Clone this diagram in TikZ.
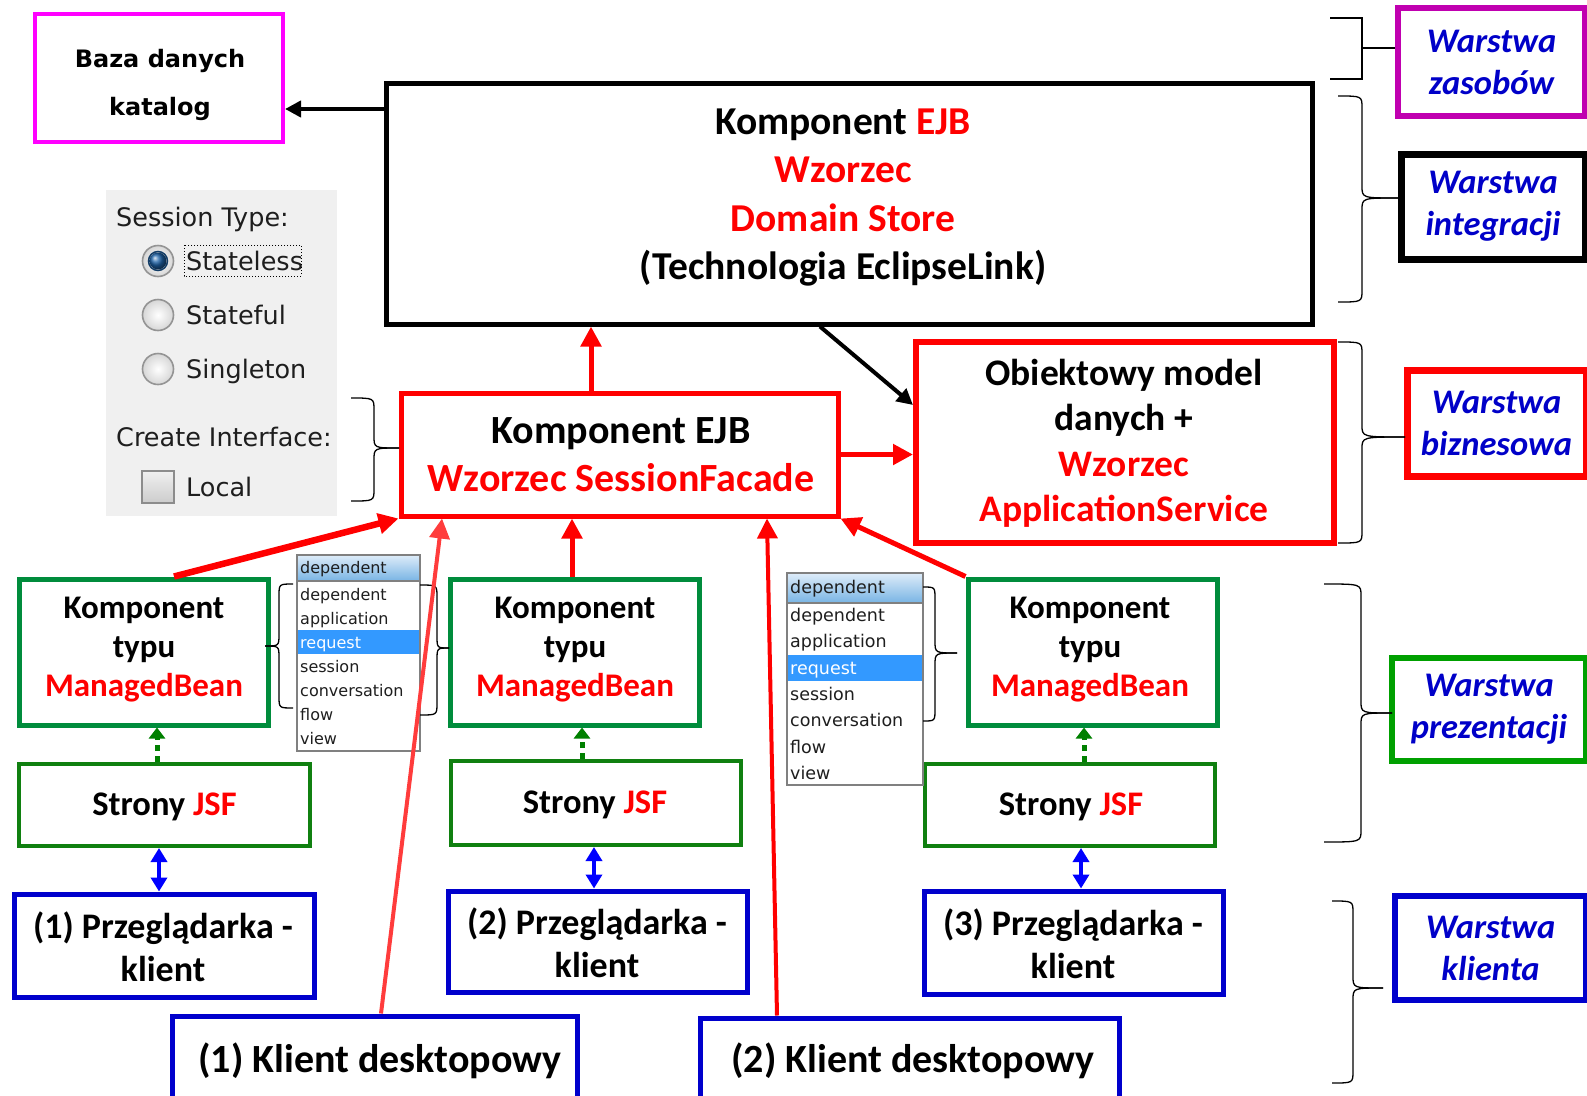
\documentclass[tikz,border=0pt]{standalone}
\usepackage{fontspec}
\setmainfont{Carlito}
\newfontfamily\dvs{DejaVu Sans}
\usetikzlibrary{arrows.meta,calc}

\definecolor{mbgreen}{RGB}{0,140,60}
\definecolor{jsfgreen}{RGB}{16,128,16}
\definecolor{dotgreen}{RGB}{0,128,0}
\definecolor{lgreen}{RGB}{0,160,0}
\definecolor{cblue}{RGB}{0,0,204}
\definecolor{lblue}{RGB}{0,0,200}
\definecolor{purp}{RGB}{192,0,176}
\definecolor{bazapink}{RGB}{255,0,255}
\definecolor{panelgray}{RGB}{240,240,240}
\definecolor{hl}{RGB}{51,153,255}
\definecolor{ddtop}{RGB}{222,236,249}
\definecolor{ddbot}{RGB}{120,180,228}
\definecolor{palered}{RGB}{255,60,60}
\definecolor{radio}{RGB}{30,100,170}
\definecolor{uitext}{RGB}{30,30,30}

\tikzset{
  box/.style={draw, rectangle, inner sep=0pt},
  txt/.style={align=center, inner sep=0pt, font=\bfseries},
  lbox/.style={draw, rectangle, inner sep=0pt, align=center, text=lblue,
    font=\fontsize{34.5}{42}\selectfont\bfseries\itshape},
  brc/.style={draw=black, line width=1.3pt},
  uitxt/.style={anchor=base west, inner sep=0pt, text=uitext, font=\dvs\fontsize{25.5}{28}\selectfont},
  dd1txt/.style={anchor=base west, inner sep=0pt, text=uitext, font=\dvs\fontsize{16}{19}\selectfont},
  dd2txt/.style={anchor=base west, inner sep=0pt, text=uitext, font=\dvs\fontsize{17.5}{21}\selectfont},
  ddframe/.style={draw=black!50, line width=1.2pt},
  redarr/.style={draw=red, line width=5pt, -{Triangle[length=20pt,width=20pt]}},
  blackarr/.style={draw=black, line width=4pt, -{Triangle[length=16pt,width=16pt]}},
  jsfarr/.style={draw=dotgreen, line width=5pt, dash pattern=on 6pt off 5pt,
    -{Triangle[length=11pt,width=16pt]}},
  webarr/.style={draw=blue, line width=4pt,
    {Triangle[length=14pt,width=16pt]}-{Triangle[length=14pt,width=16pt]}}
}

% curly brace: end x, spine x, tip x, top y, bottom y, tip y
\newcommand{\layerbrace}[6]{%
  \draw[brc] (#1,#4) .. controls (#2,#4) .. (#2,{#4+12}) -- (#2,{#6-12}) .. controls (#2,#6) .. (#3,#6);
  \draw[brc] (#1,#5) .. controls (#2,#5) .. (#2,{#5-12}) -- (#2,{#6+12}) .. controls (#2,#6) .. (#3,#6);}

\begin{document}
\begin{tikzpicture}[x=1pt,y=-1pt]
\useasboundingbox (0,0) rectangle (1587,1095);
\clip (0,0) rectangle (1587,1095);

% ---------- session settings panel ----------
\fill[panelgray] (106,190) rectangle (337,516);
\node[uitxt] (sesstype) at (116,226) {Session Type:};
\foreach \yy in {261,315,369}{
  \shade[inner color=white, outer color=black!16] (158,\yy) circle[radius=15.5pt];
  \draw[black!42, line width=1.6pt] (158,\yy) circle[radius=15.5pt];
}
\draw[radio!60!black, line width=1.5pt] (158,261) circle[radius=9.5pt];
\shade[ball color=radio] (158,261) circle[radius=8.5pt];
\node[uitxt] (stateless) at (186,270) {Stateless};
\draw[black, dotted, line width=1pt] (184,245) rectangle (301,276);
\node[uitxt] (stateful) at (186,324) {Stateful};
\node[uitxt] (singleton) at (186,378) {Singleton};
\node[uitxt] (createif) at (116,446) {Create Interface:};
\shade[top color=black!6, bottom color=black!20] (142,471) rectangle (174,503);
\draw[black!45, line width=1.5pt] (142,471) rectangle (174,503);
\node[uitxt] (local) at (186,496) {Local};

% ---------- main boxes ----------
\node[box, draw=bazapink, line width=4pt, minimum width=248pt, minimum height=128pt] (baza) at (159,78) {};
\node[txt, font=\dvs\fontsize{24}{48}\selectfont\bfseries] (bazat) at (160,85) {Baza danych\\katalog};

\node[box, draw=black, line width=5pt, minimum width=926pt, minimum height=241pt] (ejb) at (849,203.5) {};
\node[txt, font=\fontsize{39.5}{48.3}\selectfont\bfseries] (ejbt) at (843,197.5)
  {Komponent \textcolor{red}{EJB}\\\textcolor{red}{Wzorzec}\\\textcolor{red}{Domain Store}\\(Technologia EclipseLink)};

\node[box, draw=red, line width=5pt, minimum width=437pt, minimum height=123pt] (fac) at (619.5,454.5) {};
\node[txt, font=\fontsize{40}{48}\selectfont\bfseries] (fact) at (621,455)
  {Komponent EJB\\\textcolor{red}{Wzorzec SessionFacade}};

\node[box, draw=red, line width=6pt, minimum width=418pt, minimum height=201pt] (obj) at (1125,442.5) {};
\node[txt, font=\fontsize{37.5}{45.5}\selectfont\bfseries] (objt) at (1124,443.5)
  {Obiektowy model\\danych +\\\textcolor{red}{Wzorzec}\\\textcolor{red}{ApplicationService}};

% managed beans
\foreach \cx/\tx/\nm in {143.5/144/mb1, 574.5/575/mb2, 1092.5/1090/mb3}{
  \node[box, draw=mbgreen, line width=5pt, minimum width=249pt, minimum height=146pt] (\nm) at (\cx,652) {};
  \node[txt, font=\fontsize{33}{39}\selectfont\bfseries] (\nm t) at (\tx,650)
    {Komponent\\typu\\\textcolor{red}{ManagedBean}};
}

% JSF pages
\node[box, draw=jsfgreen, line width=4pt, minimum width=291pt, minimum height=82pt] (jsf1) at (164.5,805) {};
\node[box, draw=jsfgreen, line width=4pt, minimum width=290pt, minimum height=84pt] (jsf2) at (596,803) {};
\node[box, draw=jsfgreen, line width=4pt, minimum width=290pt, minimum height=82pt] (jsf3) at (1070,805) {};
\node[txt, font=\fontsize{34.5}{40}\selectfont\bfseries] (jsf1t) at (164.5,807) {Strony \textcolor{red}{JSF}};
\node[txt, font=\fontsize{34.5}{40}\selectfont\bfseries] (jsf2t) at (595,805) {Strony \textcolor{red}{JSF}};
\node[txt, font=\fontsize{34.5}{40}\selectfont\bfseries] (jsf3t) at (1071,807) {Strony \textcolor{red}{JSF}};

% browsers
\node[box, draw=cblue, line width=5pt, minimum width=300pt, minimum height=103pt] (b1) at (164,945.5) {};
\node[box, draw=cblue, line width=5pt, minimum width=299pt, minimum height=101pt] (b2) at (597.5,941.5) {};
\node[box, draw=cblue, line width=5pt, minimum width=299pt, minimum height=103pt] (b3) at (1073.5,942.5) {};
\node[txt, font=\fontsize{36}{43}\selectfont\bfseries] (b1t) at (163,947) {(1) Przeglądarka -\\klient};
\node[txt, font=\fontsize{36}{43}\selectfont\bfseries] (b2t) at (597,942.5) {(2) Przeglądarka -\\klient};
\node[txt, font=\fontsize{36}{43}\selectfont\bfseries] (b3t) at (1073,943.5) {(3) Przeglądarka -\\klient};

% desktop clients
\node[box, draw=cblue, line width=5pt, minimum width=405pt, minimum height=94pt] (d1) at (374.5,1063) {};
\node[box, draw=cblue, line width=5pt, minimum width=419pt, minimum height=92pt] (d2) at (909.5,1064) {};
\node[txt, font=\fontsize{40}{48}\selectfont\bfseries] (d1t) at (380,1061) {(1) Klient desktopowy};
\node[txt, font=\fontsize{40}{48}\selectfont\bfseries] (d2t) at (913,1061) {(2) Klient desktopowy};

% ---------- scope drop-down lists ----------
\shade[top color=ddtop, bottom color=ddbot] (297,555) rectangle (420,581);
\draw[ddframe] (297,555) rectangle (420,581);
\fill[white] (297,581) rectangle (420,751);
\fill[hl] (298,630) rectangle (420,654);
\draw[ddframe] (297,581) rectangle (420,751);
\node[dd1txt] (dd1h) at (300,573) {dependent};
\node[dd1txt] (dd1a) at (300,600) {dependent};
\node[dd1txt] (dd1b) at (300,624) {application};
\node[dd1txt, text=white] (dd1c) at (300,648) {request};
\node[dd1txt] (dd1d) at (300,672) {session};
\node[dd1txt] (dd1e) at (300,696) {conversation};
\node[dd1txt] (dd1f) at (300,720) {flow};
\node[dd1txt] (dd1g) at (300,744) {view};

\shade[top color=ddtop, bottom color=ddbot] (787,573) rectangle (923,603);
\draw[ddframe] (787,573) rectangle (923,603);
\fill[white] (787,603) rectangle (923,785);
\fill[hl] (788,655) rectangle (923,681);
\draw[ddframe] (787,603) rectangle (923,785);
\node[dd2txt] (dd2h) at (790,593) {dependent};
\node[dd2txt] (dd2a) at (790,621.5) {dependent};
\node[dd2txt] (dd2b) at (790,647.8) {application};
\node[dd2txt, text=white] (dd2c) at (790,674.1) {request};
\node[dd2txt] (dd2d) at (790,700.4) {session};
\node[dd2txt] (dd2e) at (790,726.7) {conversation};
\node[dd2txt] (dd2f) at (790,753) {flow};
\node[dd2txt] (dd2g) at (790,779.3) {view};

% ---------- layer labels ----------
\node[lbox, draw=purp, line width=6pt, minimum width=187pt, minimum height=108pt] (lz) at (1491.5,62) {Warstwa\\zasobów};
\node[lbox, draw=black, line width=7pt, minimum width=184pt, minimum height=105pt] (li) at (1493,206.5) {Warstwa\\integracji};
\node[lbox, draw=red, line width=7pt, minimum width=179pt, minimum height=106pt] (lb) at (1496.5,423) {Warstwa\\biznesowa};
\node[lbox, draw=lgreen, line width=6pt, minimum width=194pt, minimum height=103pt] (lp) at (1489,709.5) {Warstwa\\prezentacji};
\node[lbox, draw=cblue, line width=6pt, minimum width=191pt, minimum height=104pt] (lk) at (1490.5,948) {Warstwa\\klienta};

% ---------- braces ----------
\draw[brc] (1330,18) -- (1362,18) -- (1362,79) -- (1330,79);
\draw[brc] (1362,48) -- (lz.west |- 0,48);
\layerbrace{1338}{1362}{1398}{96}{302}{198}
\layerbrace{1338}{1362}{1405}{342}{543}{437}
\layerbrace{1324}{1361}{1392}{584}{842}{713}
\layerbrace{1332}{1353}{1383}{901}{1083}{988}
\layerbrace{351}{374}{399}{398}{501}{448}
\layerbrace{293}{279}{265}{584}{708}{646}
\layerbrace{420}{437}{449}{585}{715}{648}
\layerbrace{923}{935}{957}{587}{721}{653}

% ---------- connectors ----------
\draw[blackarr] (ejb.west |- 0,109) -- (baza.east |- 0,109);
\draw[blackarr] (ejb.south -| 820,0) -- (obj.west |- 0,405);
\draw[redarr] (fac.north -| 591,0) -- (ejb.south -| 591,0);
\draw[redarr] (fac.east) -- (fac.east -| obj.west);
\draw[redarr, line width=6.5pt] (mb1.north -| 174,0) -- (fac.south west);
\draw[redarr] (mb2.north -| 572,0) -- (fac.south -| 572,0);
\draw[redarr] (mb3.north west) -- (fac.south east);
\draw[redarr, draw=palered, line width=4pt] (d1.north -| 381,0) -- (fac.south -| 442,0);
\draw[redarr, line width=4pt] (d2.north -| 777,0) -- (fac.south -| 767,0);

\draw[jsfarr] (jsf1.north -| 157,0) -- (mb1.south -| 157,0);
\draw[jsfarr] (jsf2.north -| 582,0) -- (mb2.south -| 582,0);
\draw[jsfarr] (jsf3.north -| 1084,0) -- (mb3.south -| 1084,0);

\draw[webarr] (jsf1.south -| 159,0) -- (b1.north -| 159,0);
\draw[webarr] (jsf2.south -| 594,0) -- (b2.north -| 594,0);
\draw[webarr] (jsf3.south -| 1081,0) -- (b3.north -| 1081,0);
\end{tikzpicture}
\end{document}
